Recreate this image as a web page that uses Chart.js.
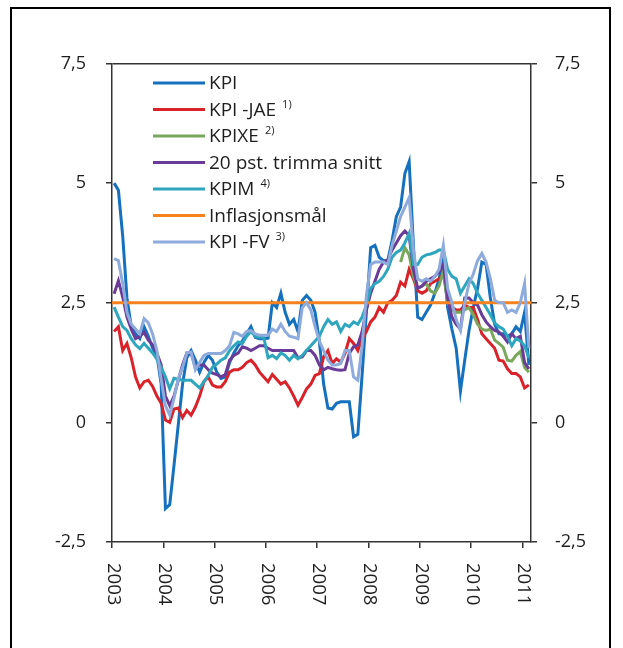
<!DOCTYPE html>
<html lang="no">
<head>
<meta charset="UTF-8">
<script src="https://cdn.jsdelivr.net/npm/chart.js"></script>
<style>
    body {
        margin: 0;
        background: #fff;
        overflow: hidden;
    }

    .frame {
        position: absolute;
        left: 10px;
        top: 7px;
        width: 597px;
        height: 700px;
        border: 2px solid #000;
    }

    .wrap {
        position: absolute;
        left: 0;
        top: 0;
        width: 623px;
        height: 648px;
    }
</style>
</head>
<body>
<div class="frame"></div>
<div class="wrap"><canvas id="inflChart"></canvas></div>

<script>
// monthly, Jan 2003 - Feb 2011 (98 months)
const years = ['2003', '2004', '2005', '2006', '2007', '2008', '2009', '2010', '2011'];
const yTicks = [-2.5, 0, 2.5, 5, 7.5];

const kpi = [
    5.0, 4.85, 3.9, 2.6, 2.0, 1.85, 1.75, 2.0, 1.8, 1.55, 1.4, 0.8,
    -1.8, -1.72, -0.9, -0.05, 0.8, 1.35, 1.5, 1.3, 1.05, 1.25, 1.4, 1.3,
    1.05, 0.92, 0.95, 1.25, 1.45, 1.6, 1.7, 1.85, 2.0, 1.78, 1.75, 1.75,
    1.76, 2.5, 2.4, 2.7, 2.3, 2.05, 2.15, 1.9, 2.55, 2.65, 2.55, 2.3,
    1.7, 0.8, 0.3, 0.28, 0.4, 0.43, 0.43, 0.43, -0.3, -0.25, 1.0, 2.3,
    3.65, 3.7, 3.45, 3.38, 3.38, 3.8, 4.3, 4.5, 5.2, 5.45, 3.7, 2.2,
    2.15, 2.3, 2.45, 2.7, 3.0, 3.4, 2.4, 1.95, 1.55, 0.65, 1.3, 1.92,
    2.4, 2.8, 3.35, 3.3, 2.6, 2.05, 1.85, 1.85, 1.8, 1.85, 2.0, 1.9,
    2.3, 1.2
];

const kpiJae = [
    1.9, 2.0, 1.5, 1.65, 1.35, 0.95, 0.72, 0.85, 0.88, 0.75, 0.55, 0.4,
    0.05, 0.0, 0.28, 0.3, 0.1, 0.25, 0.15, 0.32, 0.55, 0.85, 0.95, 0.78,
    0.74, 0.74, 0.85, 1.05, 1.1, 1.1, 1.15, 1.25, 1.3, 1.2, 1.05, 0.95,
    0.85, 1.0, 0.9, 0.8, 0.85, 0.72, 0.55, 0.36, 0.52, 0.7, 0.8, 0.98,
    1.02, 1.37, 1.5, 1.23, 1.33, 1.26, 1.44, 1.75, 1.65, 1.5, 1.75, 1.9,
    2.1, 2.2, 2.4, 2.3, 2.5, 2.55, 2.65, 2.93, 2.85, 3.2, 3.0, 2.75,
    2.7, 2.75, 2.9, 2.95, 3.0, 3.1, 2.6, 2.4, 2.35, 2.35, 2.45, 2.4,
    2.4, 2.15, 1.85, 1.75, 1.65, 1.55, 1.3, 1.28, 1.12, 1.02, 1.02, 0.95,
    0.72, 0.78
];

// KPIXE is published from mid-2008
const kpixe = [
    null, null, null, null, null, null, null, null, null, null, null, null,
    null, null, null, null, null, null, null, null, null, null, null, null,
    null, null, null, null, null, null, null, null, null, null, null, null,
    null, null, null, null, null, null, null, null, null, null, null, null,
    null, null, null, null, null, null, null, null, null, null, null, null,
    null, null, null, null, null, null, null, 3.35, 3.65, 3.5, 3.05, 2.8,
    2.85, 2.9, 2.75, 2.7, 2.85, 3.15, 2.5, 2.35, 2.3, 2.3, 2.35, 2.4,
    2.25, 2.05, 1.95, 1.92, 1.95, 1.72, 1.65, 1.57, 1.3, 1.28, 1.4, 1.48,
    1.15, 1.05
];

const trimmed = [
    2.69, 2.96, 2.62, 2.2, 1.95, 1.75, 1.8, 1.88, 1.72, 1.62, 1.45, 1.2,
    0.55, 0.35, 0.55, 0.88, 1.2, 1.45, 1.45, 1.15, 1.2, 1.2, 1.1, 1.03,
    1.0, 0.95, 1.0, 1.3, 1.4, 1.45, 1.58, 1.55, 1.5, 1.55, 1.6, 1.6,
    1.55, 1.5, 1.5, 1.5, 1.5, 1.5, 1.5, 1.35, 1.37, 1.5, 1.5, 1.4,
    1.2, 1.1, 1.15, 1.12, 1.1, 1.09, 1.1, 1.44, 1.58, 1.62, 1.9, 2.35,
    2.7, 2.95, 3.2, 3.35, 3.4, 3.6, 3.75, 3.9, 4.0, 3.9, 3.2, 2.8,
    2.85, 2.95, 3.0, 3.05, 3.15, 3.3, 2.6, 2.2, 2.05, 1.95, 2.6, 2.6,
    2.5, 2.45, 2.25, 2.1, 2.0, 1.92, 1.89, 1.8, 1.68, 1.85, 1.75, 1.8,
    1.25, 1.12
];

const kpim = [
    2.41, 2.2, 2.0, 1.92, 1.75, 1.62, 1.54, 1.65, 1.55, 1.45, 1.32, 1.15,
    0.95, 0.7, 0.92, 0.9, 0.88, 0.88, 0.88, 0.8, 0.72, 0.85, 0.98, 1.15,
    1.22, 1.3, 1.35, 1.5, 1.6, 1.68, 1.65, 1.8, 1.9, 1.8, 1.78, 1.78,
    1.35, 1.4, 1.33, 1.45, 1.4, 1.3, 1.4, 1.33, 1.4, 1.5, 1.6, 1.7,
    1.8, 2.0, 2.15, 2.05, 2.1, 1.9, 2.05, 2.0, 2.1, 2.05, 2.2, 2.45,
    2.8, 2.9, 2.95, 3.05, 3.2, 3.45, 3.55, 3.6, 3.75, 3.95, 3.3, 3.3,
    3.45, 3.5, 3.52, 3.55, 3.6, 3.6, 3.2, 3.05, 3.0, 2.7, 2.85, 3.0,
    2.9, 2.7, 2.55, 2.4, 2.25, 2.08, 2.0, 1.95, 1.8, 1.6, 1.75, 1.7,
    1.6, 1.35
];

const target = 2.5;

const kpiFv = [
    3.42, 3.38, 2.9, 2.3, 2.05, 1.95, 1.85, 2.17, 2.08, 1.85, 1.5, 0.9,
    0.35, 0.15, 0.5, 0.92, 1.15, 1.45, 1.47, 1.1, 1.25, 1.4, 1.44, 1.44,
    1.44, 1.44, 1.5, 1.6, 1.88, 1.85, 1.8, 1.9, 1.92, 1.85, 1.82, 1.82,
    1.82, 1.95, 1.9, 2.05, 1.9, 1.8, 1.78, 1.75, 2.4, 2.5, 2.35, 2.0,
    1.7, 1.5, 1.3, 1.2, 1.2, 1.23, 1.5, 1.5, 0.95, 0.88, 1.6, 2.65,
    3.3, 3.35, 3.35, 3.35, 3.3, 3.7, 4.0, 4.3, 4.5, 4.7, 3.6, 3.0,
    2.95, 3.0, 2.95, 3.05, 3.2, 3.7, 2.8, 2.5, 2.15, 1.92, 2.5, 2.9,
    3.1, 3.38, 3.53, 3.35, 3.0, 2.55, 2.5, 2.5, 2.3, 2.35, 2.3, 2.5,
    2.9, 1.55
];

const legendNotes = ['', '1)', '2)', '', '4)', '', '3)'];

const xMin = -0.5;
const xMax = kpi.length - 0.5;

const toPoints = arr => arr.map((v, i) => ({ x: i, y: v }));
const fmt = v => String(v).replace('.', ',');

Chart.defaults.font.family = '"Open Sans", "Noto Sans", sans-serif';

function series(label, data, color, k) {
    return {
        label: label,
        data: data,
        borderColor: color,
        backgroundColor: color,
        borderWidth: 3,
        pointRadius: 0,
        tension: 0,
        spanGaps: false,
        order: 10 - k
    };
}

const datasets = [
    series('KPI', toPoints(kpi), '#1570be', 0),
    series('KPI -JAE', toPoints(kpiJae), '#d9232b', 1),
    series('KPIXE', toPoints(kpixe), '#79a85c', 2),
    series('20 pst. trimma snitt', toPoints(trimmed), '#6a3b97', 3),
    series('KPIM', toPoints(kpim), '#2ea6bd', 4),
    series('Inflasjonsmål', [{ x: xMin, y: target }, { x: xMax, y: target }], '#f5821f', 5),
    series('KPI -FV', toPoints(kpiFv), '#8eabdc', 6)
];

// legend drawn inside the plot area, with footnote marks
const insideLegend = {
    id: 'insideLegend',
    afterDraw(chart) {
        const { ctx, chartArea } = chart;
        ctx.save();
        chart.data.datasets.forEach((ds, k) => {
            const y = chartArea.top + 19.5 + k * 26.5;
            const x0 = chartArea.left + 41;
            ctx.strokeStyle = ds.borderColor;
            ctx.lineWidth = 3;
            ctx.beginPath();
            ctx.moveTo(x0, y);
            ctx.lineTo(x0 + 52, y);
            ctx.stroke();

            ctx.fillStyle = '#1e1e1e';
            ctx.font = '19px "Open Sans"';
            ctx.textAlign = 'left';
            ctx.textBaseline = 'middle';
            ctx.fillText(ds.label, x0 + 56, y + 1);
            if (legendNotes[k]) {
                const w = ctx.measureText(ds.label).width;
                ctx.font = '11px "Open Sans"';
                ctx.fillText(legendNotes[k], x0 + 56 + w + 6, y - 5);
            }
        });
        ctx.restore();
    }
};

// year labels, rotated to read downwards
const yearLabels = {
    id: 'yearLabels',
    afterDraw(chart) {
        const xs = chart.scales.x;
        const ctx = chart.ctx;
        ctx.save();
        ctx.font = '18.5px "Open Sans"';
        ctx.fillStyle = '#1e1e1e';
        ctx.textAlign = 'left';
        ctx.textBaseline = 'middle';
        xs.ticks.forEach((t, k) => {
            ctx.save();
            ctx.translate(xs.getPixelForValue(t.value) + 1, xs.top + 21);
            ctx.rotate(Math.PI / 2);
            ctx.fillText(years[k], 0, 0);
            ctx.restore();
        });
        ctx.restore();
    }
};

const axisColor = '#333';
const tickFont = { size: 18 };

new Chart(document.getElementById('inflChart'), {
    type: 'line',
    data: { datasets: datasets },
    plugins: [insideLegend, yearLabels],
    options: {
        responsive: true,
        maintainAspectRatio: false,
        animation: false,
        layout: { padding: { top: 63.5, left: 0, right: 0, bottom: 0 } },
        plugins: {
            legend: { display: false },
            tooltip: { enabled: false }
        },
        scales: {
            x: {
                type: 'linear',
                min: xMin,
                max: xMax,
                afterBuildTicks: s => {
                    s.ticks = years.map((y, k) => ({ value: xMin + 12 * k }));
                },
                afterFit: s => { s.height = 106; },
                ticks: { display: false },
                grid: { drawOnChartArea: false, drawTicks: true, tickLength: 6, color: axisColor, lineWidth: 1.5 },
                border: { color: axisColor, width: 1.5 }
            },
            y: {
                position: 'left',
                min: -2.5,
                max: 7.5,
                afterBuildTicks: s => { s.ticks = yTicks.map(v => ({ value: v })); },
                afterFit: s => { s.width = 112; },
                ticks: { callback: fmt, font: tickFont, color: '#1e1e1e', padding: 20 },
                grid: {
                    drawOnChartArea: true,
                    color: c => (c.tick && c.tick.value === 7.5 ? axisColor : 'rgba(0,0,0,0)'),
                    tickColor: axisColor,
                    tickLength: 6,
                    lineWidth: 1.5
                },
                border: { color: axisColor, width: 1.5 }
            },
            y2: {
                position: 'right',
                min: -2.5,
                max: 7.5,
                afterBuildTicks: s => { s.ticks = yTicks.map(v => ({ value: v })); },
                afterFit: s => { s.width = 92; },
                ticks: { callback: fmt, font: tickFont, color: '#1e1e1e', padding: 18 },
                grid: { drawOnChartArea: false, tickColor: axisColor, color: axisColor, tickLength: 6, lineWidth: 1.5 },
                border: { color: axisColor, width: 1.5 }
            }
        }
    }
});
</script>
</body>
</html>
